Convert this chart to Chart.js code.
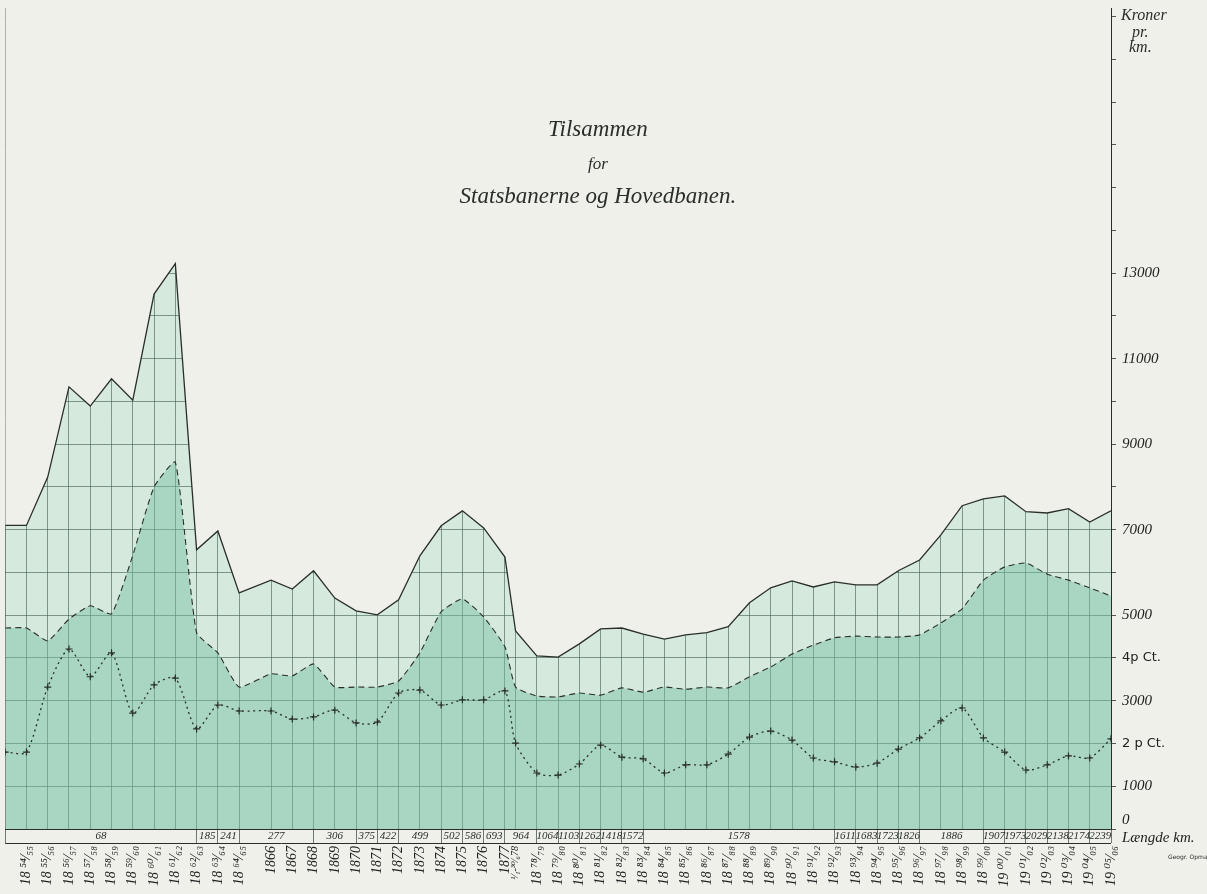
<!DOCTYPE html>
<html><head><meta charset="utf-8">
<style>html,body{margin:0;padding:0;background:#eef0e9;} #wrap{width:1207px;height:894px;}</style>
<script src="https://cdn.jsdelivr.net/npm/chart.js@4.4.1/dist/chart.umd.min.js"></script>
</head><body><div id="wrap"><canvas id="c" width="1207" height="894"></canvas></div>
<script>
// ---- data ----
const xYears = [1854,1855,1856,1857,1858,1859,1860,1861,1862,1863,1864,1865,
  1866.5,1867.5,1868.5,1869.5,1870.5,1871.5,1872.5,1873.5,1874.5,1875.5,1876.5,1877.5,
  1878,
  1879,1880,1881,1882,1883,1884,1885,1886,1887,1888,1889,1890,1891,1892,1893,1894,1895,1896,1897,1898,1899,1900,1901,1902,1903,1904,1905,1906];
const tickLabels = ['','18 ⁵⁴⁄₅₅','18 ⁵⁵⁄₅₆','18 ⁵⁶⁄₅₇','18 ⁵⁷⁄₅₈','18 ⁵⁸⁄₅₉','18 ⁵⁹⁄₆₀','18 ⁶⁰⁄₆₁','18 ⁶¹⁄₆₂','18 ⁶²⁄₆₃','18 ⁶³⁄₆₄','18 ⁶⁴⁄₆₅',
  '1866','1867','1868','1869','1870','1871','1872','1873','1874','1875','1876','1877',
  '¹⁄₁-³⁰⁄₆78',
  '18 ⁷⁸⁄₇₉','18 ⁷⁹⁄₈₀','18 ⁸⁰⁄₈₁','18 ⁸¹⁄₈₂','18 ⁸²⁄₈₃','18 ⁸³⁄₈₄','18 ⁸⁴⁄₈₅','18 ⁸⁵⁄₈₆','18 ⁸⁶⁄₈₇','18 ⁸⁷⁄₈₈','18 ⁸⁸⁄₈₉','18 ⁸⁹⁄₉₀','18 ⁹⁰⁄₉₁','18 ⁹¹⁄₉₂','18 ⁹²⁄₉₃','18 ⁹³⁄₉₄','18 ⁹⁴⁄₉₅','18 ⁹⁵⁄₉₆','18 ⁹⁶⁄₉₇','18 ⁹⁷⁄₉₈','18 ⁹⁸⁄₉₉','18 ⁹⁹⁄₀₀','19 ⁰⁰⁄₀₁','19 ⁰¹⁄₀₂','19 ⁰²⁄₀₃','19 ⁰³⁄₀₄','19 ⁰⁴⁄₀₅','19 ⁰⁵⁄₀₆'];
const smallLabelYears = [1878];
const grossPerKm = [7100,7100,8230,10340,9890,10530,10030,12510,13220,6530,6970,5520,
  5820,5610,6040,5400,5100,5010,5360,6390,7090,7440,7040,6360,
  4630,
  4050,4020,4330,4680,4700,4560,4440,4540,4590,4730,5290,5640,5800,5660,5780,5710,5710,6040,6290,6880,7560,7720,7790,7420,7390,7490,7180,7440];
const expensePerKm = [4700,4700,4400,4910,5220,5030,6400,8000,8580,4590,4120,3320,
  3630,3580,3860,3320,3320,3320,3460,4120,5080,5380,4960,4260,
  3320,
  3110,3090,3180,3130,3300,3200,3320,3270,3320,3300,3560,3790,4090,4300,4470,4510,4490,4490,4540,4820,5150,5820,6130,6220,5960,5820,5640,5450];
const returnPct = [1.80,1.80,3.32,4.21,3.56,4.12,2.71,3.37,3.53,2.34,2.90,2.76,
  2.76,2.57,2.62,2.78,2.48,2.50,3.18,3.25,2.90,3.02,3.02,3.23,
  2.01,
  1.31,1.26,1.52,1.96,1.68,1.64,1.31,1.50,1.50,1.75,2.15,2.29,2.08,1.66,1.57,1.45,1.54,1.87,2.13,2.53,2.83,2.13,1.80,1.38,1.50,1.71,1.66,2.11];
const kmValues = [68,185,241,277,306,375,422,499,502,586,693,964,1064,1103,1262,1418,1572,1578,1611,1683,1723,1826,1886,1907,1973,2029,2138,2174,2239];
const kmStarts = [1854,1863,1864,1865,1868.5,1870.5,1871.5,1872.5,1874.5,1875.5,1876.5,1877.5,1879,1880,1881,1882,1883,1884,1893,1894,1895,1896,1897,1900,1901,1902,1903,1904,1905];
const kmEnd = 1906;
const yMax = 19200;
const yGridStep = 1000;
const kronerTickLabels = [1000,3000,5000,7000,9000,11000,13000];
const pctTickValues = [2,4];
const pctTickLabels = ['2 p Ct.','4p Ct.'];
const zeroTickLabel = ['0','Længde km.'];
const titleLines = ['Tilsammen','for','Statsbanerne og Hovedbanen.'];
const unitLines = ['Kroner','pr.','km.'];
const creditText = 'Geogr. Opmaaling';

// ---- styles ----
const paper = '#eef0e9';
const ink = '#2a2e2b';
const gridInk = 'rgba(35,50,42,0.8)';
const serif = '"Liberation Serif", "DejaVu Serif", serif';

const pts = arr => xYears.map((x, i) => ({x, y: arr[i]}));

const paperPlugin = {
  id: 'paper',
  beforeDraw(chart) {
    const c = chart.ctx;
    c.save(); c.fillStyle = paper; c.fillRect(0, 0, chart.width, chart.height); c.restore();
  }
};
const annotPlugin = {
  id: 'annot',
  afterDraw(chart) {
    const c = chart.ctx, a = chart.chartArea, x = chart.scales.x;
    c.save();
    c.fillStyle = ink; c.strokeStyle = ink;
    // km row
    c.font = 'italic 11px ' + serif;
    c.textAlign = 'center'; c.textBaseline = 'middle';
    kmValues.forEach((km, i) => {
      const s = kmStarts[i], e = i + 1 < kmStarts.length ? kmStarts[i + 1] : kmEnd;
      c.fillText(String(km), x.getPixelForValue((s + e) / 2), a.bottom + 7.5);
    });
    c.lineWidth = 1;
    c.beginPath(); c.moveTo(a.left, a.bottom + 14.5); c.lineTo(a.right, a.bottom + 14.5); c.stroke();
    // title
    const cx = a.left + (a.right - a.left) * 0.536;
    c.textBaseline = 'alphabetic';
    c.font = 'italic 23px ' + serif; c.fillText(titleLines[0], cx, 136);
    c.font = 'italic 17px ' + serif; c.fillText(titleLines[1], cx, 169);
    c.font = 'italic 23px ' + serif; c.fillText(titleLines[2], cx, 203);
    // unit
    c.textAlign = 'left';
    c.font = 'italic 16px ' + serif;
    c.fillText(unitLines[0], a.right + 10, 20);
    c.fillText(unitLines[1], a.right + 21, 37);
    c.fillText(unitLines[2], a.right + 18, 52);
    c.font = '6px "DejaVu Sans"';
    c.fillText(creditText, a.right + 57, 859);
    c.restore();
  }
};

new Chart(document.getElementById('c'), {
  type: 'line',
  data: {
    datasets: [
      { label: 'Procent', data: pts(returnPct), yAxisID: 'yp', borderColor: ink, borderWidth: 1.3,
        borderDash: [2, 3.5], pointStyle: 'cross', pointRadius: 3.5, pointBorderColor: ink,
        pointBorderWidth: 1.2, fill: false, tension: 0.25 },
      { label: 'Udgifter', data: pts(expensePerKm), yAxisID: 'y', borderColor: ink, borderWidth: 1.1,
        borderDash: [6, 4], pointRadius: 0, fill: 'origin', backgroundColor: 'rgba(112,190,162,0.45)', tension: 0.15 },
      { label: 'Indtægter', data: pts(grossPerKm), yAxisID: 'y', borderColor: ink, borderWidth: 1.3,
        pointRadius: 0, fill: 'origin', backgroundColor: 'rgba(158,220,196,0.30)', tension: 0 },
      { label: 'mask', data: pts(grossPerKm), yAxisID: 'y', borderWidth: 0, borderColor: 'rgba(0,0,0,0)',
        pointRadius: 0, fill: 'end', backgroundColor: paper, tension: 0 }
    ]
  },
  plugins: [paperPlugin, annotPlugin],
  options: {
    responsive: false, animation: false, devicePixelRatio: 1,
    layout: { padding: { top: 8, left: 0, right: 0, bottom: 0 } },
    plugins: { legend: { display: false }, tooltip: { enabled: false } },
    scales: {
      x: {
        type: 'linear', min: 1854, max: 1906, position: 'bottom',
        afterBuildTicks: s => { s.ticks = xYears.map(v => ({ value: v })); },
        afterFit: s => { s.height = 65; s.paddingLeft = 0; s.paddingRight = 0; },
        grid: {
          color: gridInk, lineWidth: 0.8, tickLength: 14, tickWidth: 0.8,
          tickColor: ctx => (ctx.tick && (kmStarts.includes(ctx.tick.value) || ctx.tick.value === kmEnd)) ? gridInk : 'rgba(0,0,0,0)'
        },
        border: { display: true, color: ink, width: 1, z: 1 },
        ticks: {
          autoSkip: false, minRotation: 90, maxRotation: 90, padding: 3, color: '#222',
          font: ctx => ({ family: serif, style: 'italic',
            size: (ctx.tick && smallLabelYears.includes(ctx.tick.value)) ? 10 : 14 }),
          callback: (v, i) => tickLabels[i] ?? ''
        }
      },
      y: {
        position: 'right', min: 0, max: yMax,
        afterBuildTicks: s => {
          s.ticks = Array.from({ length: Math.floor(yMax / yGridStep) + 1 }, (_, i) => ({ value: i * yGridStep }));
        },
        afterFit: s => { s.width = 96; s.paddingTop = 0; s.paddingBottom = 0; },
        grid: { color: gridInk, lineWidth: 0.8, tickLength: 5, tickColor: ink },
        border: { display: true, color: ink, width: 1, z: 1 },
        ticks: {
          padding: 6, color: '#222',
          font: ctx => {
            const v = ctx.tick ? ctx.tick.value : -1;
            if (pctTickValues.some(p => p * 1000 === v)) return { family: '"DejaVu Sans"', size: 13, style: 'normal' };
            return { family: serif, style: 'italic', size: 15 };
          },
          callback: v => {
            if (v === 0) return zeroTickLabel;
            const pi = pctTickValues.findIndex(p => p * 1000 === v);
            if (pi >= 0) return pctTickLabels[pi];
            return kronerTickLabels.includes(v) ? String(v) : '';
          }
        }
      },
      yp: { display: false, min: 0, max: yMax / 1000 }
    }
  }
});
</script>
</body></html>
